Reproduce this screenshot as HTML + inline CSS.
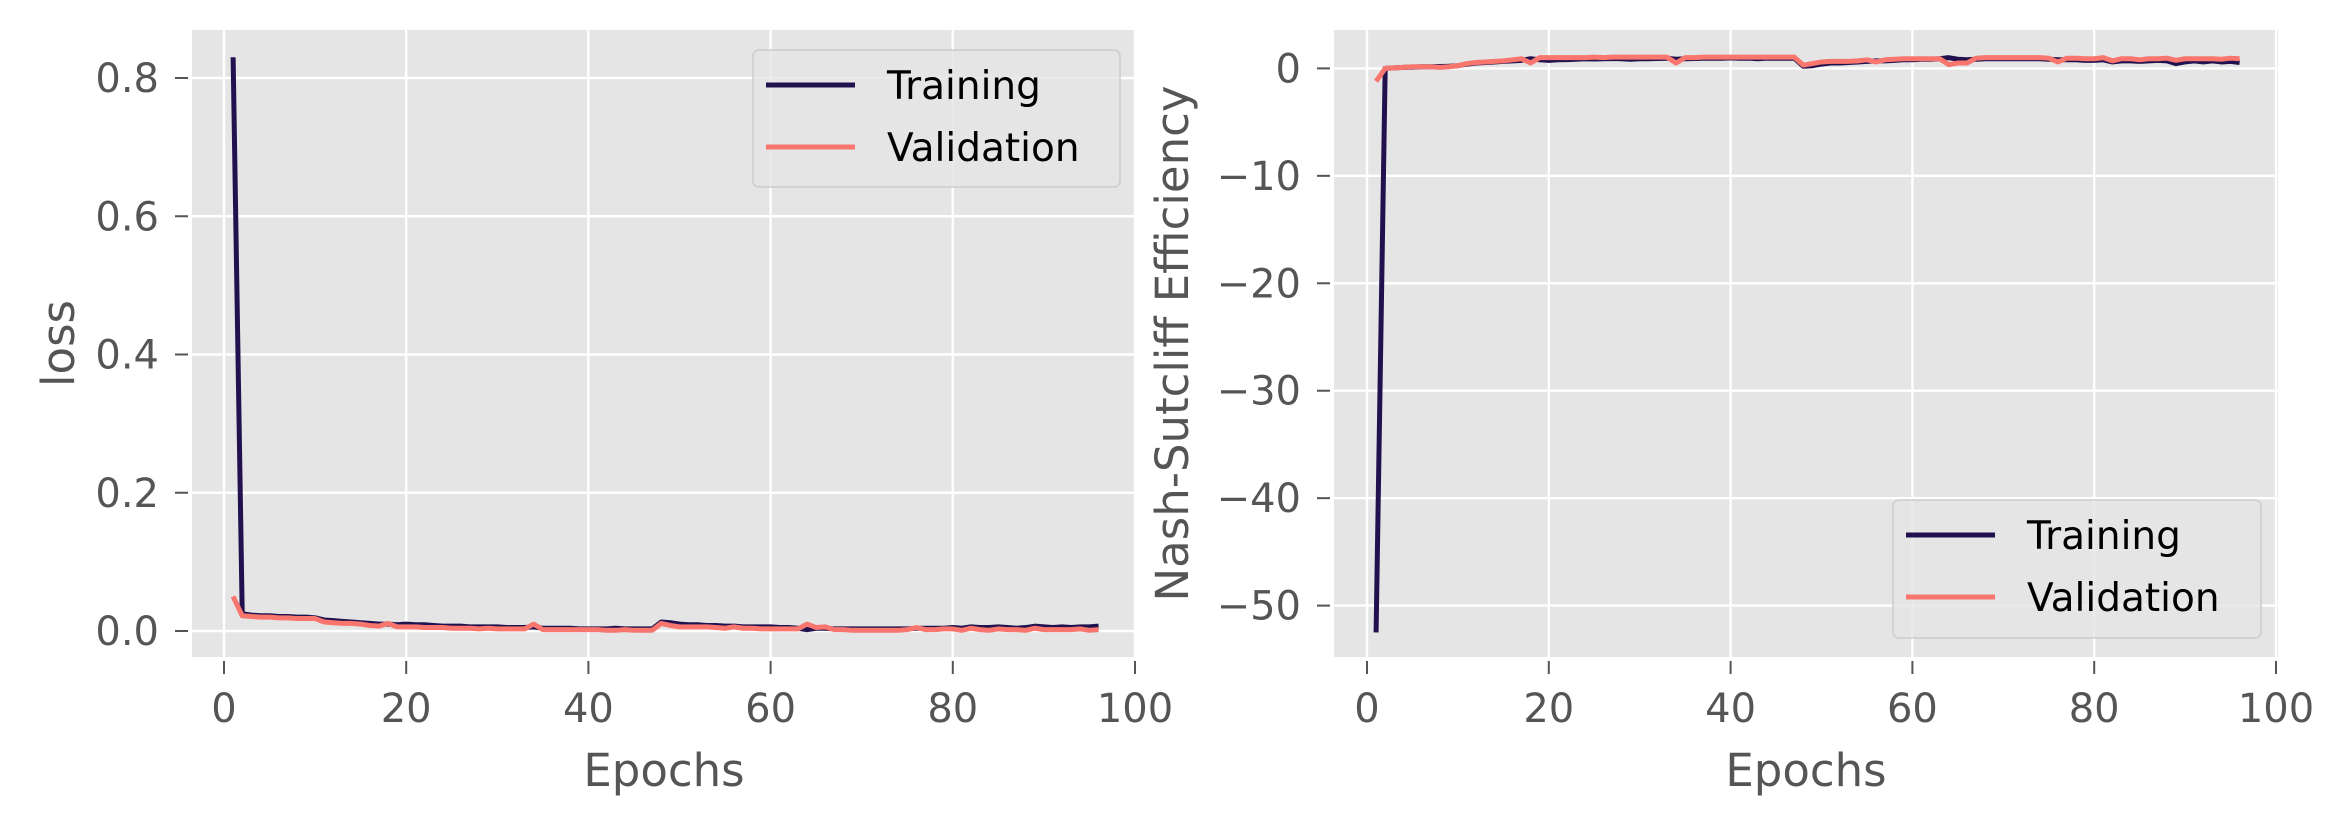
<!DOCTYPE html>
<html><head><meta charset="utf-8">
<style>
html,body{margin:0;padding:0;background:#fff;}
svg{display:block;font-family:"DejaVu Sans","Liberation Sans",sans-serif;}
</style></head>
<body>
<svg id="fig" width="2345" height="825" viewBox="0 0 2345 825"></svg>
<script>
const epochs = Array.from({length:96},(_,i)=>i+1);
const lossTrain = [0.83,0.025,0.023,0.022,0.022,0.021,0.021,0.020,0.020,0.019,
0.016,0.015,0.014,0.013,0.012,0.011,0.010,0.010,0.009,0.010,
0.009,0.009,0.008,0.007,0.007,0.007,0.006,0.006,0.006,0.006,
0.005,0.005,0.005,0.006,0.004,0.004,0.004,0.004,0.003,0.003,
0.003,0.003,0.004,0.003,0.003,0.003,0.003,0.013,0.012,0.010,
0.009,0.009,0.008,0.008,0.007,0.007,0.006,0.006,0.006,0.006,
0.005,0.005,0.004,0.002,0.004,0.004,0.003,0.003,0.003,0.003,
0.003,0.003,0.003,0.003,0.003,0.004,0.004,0.004,0.004,0.005,
0.004,0.006,0.005,0.005,0.006,0.005,0.004,0.005,0.007,0.006,
0.005,0.006,0.005,0.006,0.006,0.007];
const lossVal = [0.05,0.022,0.021,0.020,0.020,0.019,0.019,0.018,0.018,0.018,
0.013,0.012,0.011,0.011,0.010,0.008,0.007,0.011,0.006,0.006,
0.006,0.005,0.005,0.005,0.004,0.004,0.004,0.003,0.004,0.003,
0.003,0.003,0.003,0.010,0.002,0.002,0.002,0.002,0.002,0.002,
0.002,0.001,0.001,0.002,0.001,0.001,0.001,0.011,0.008,0.006,
0.006,0.006,0.006,0.005,0.004,0.006,0.004,0.004,0.003,0.003,
0.003,0.003,0.003,0.010,0.005,0.006,0.002,0.002,0.001,0.001,
0.001,0.001,0.001,0.001,0.002,0.005,0.002,0.002,0.003,0.003,
0.001,0.004,0.002,0.001,0.003,0.002,0.002,0.001,0.004,0.002,
0.002,0.002,0.002,0.003,0.001,0.002];
const nseTrain = [-52.5,0.0,0.05,0.1,0.12,0.15,0.15,0.18,0.2,0.25,
0.4,0.5,0.55,0.6,0.65,0.7,0.75,0.9,0.8,0.75,
0.8,0.82,0.85,0.9,0.88,0.9,0.92,0.9,0.85,0.9,
0.9,0.92,0.95,0.85,0.9,0.92,0.95,0.95,0.95,0.98,
0.95,0.95,0.9,0.95,0.95,0.95,0.95,0.2,0.25,0.4,
0.5,0.5,0.55,0.6,0.65,0.7,0.7,0.75,0.8,0.8,
0.85,0.85,0.9,1.0,0.85,0.8,0.85,0.9,0.9,0.9,
0.9,0.9,0.9,0.9,0.85,0.8,0.8,0.8,0.75,0.75,
0.8,0.6,0.7,0.7,0.65,0.7,0.75,0.7,0.45,0.6,
0.7,0.6,0.7,0.6,0.65,0.55];
const nseVal = [-1.2,0.0,0.05,0.1,0.15,0.15,0.15,0.1,0.15,0.25,
0.45,0.55,0.6,0.65,0.7,0.8,0.9,0.5,1.0,1.0,
1.0,1.0,1.0,1.0,1.05,1.0,1.05,1.05,1.05,1.05,
1.05,1.05,1.05,0.5,1.0,1.0,1.05,1.05,1.05,1.05,
1.05,1.05,1.05,1.05,1.05,1.05,1.05,0.3,0.45,0.6,
0.65,0.65,0.65,0.7,0.8,0.6,0.8,0.85,0.9,0.9,
0.9,0.9,0.9,0.35,0.5,0.5,0.95,1.0,1.0,1.0,
1.0,1.0,1.0,1.0,0.95,0.6,0.95,0.95,0.9,0.9,
1.0,0.7,0.9,0.9,0.8,0.9,0.9,0.95,0.75,0.9,
0.9,0.9,0.9,0.85,0.95,0.9];
const xTicks = [0,20,40,60,80,100];
const lossTicks = [0,0.2,0.4,0.6,0.8];
const nseTicks = [-50,-40,-30,-20,-10,0];

const NS="http://www.w3.org/2000/svg";
const svg=document.getElementById('fig');
function mk(tag,attrs,parent){const e=document.createElementNS(NS,tag);for(const k in attrs)e.setAttribute(k,attrs[k]);(parent||svg).appendChild(e);return e;}

function panel(o){
  const g=mk('g',{});
  
  
  const xs=v=>o.x0px+(v-0)*(o.x100px-o.x0px)/100;
  const ys=v=>o.ya_px+(v-o.ya)*(o.yb_px-o.ya_px)/(o.yb-o.ya);
  const bg=mk('rect',{x:o.L,y:o.T,width:o.R-o.L,height:o.B-o.T,fill:'#e5e5e5'},g);
  
  
  xTicks.forEach(t=>{
    const X=xs(t);
    const gl=mk('line',{x1:X,x2:X,y1:o.T,y2:o.B,stroke:'#fff','stroke-width':2.4},g);
    
    
    mk('line',{x1:X,x2:X,y1:o.B+4,y2:o.B+17,stroke:'#555','stroke-width':2},g);
    const tx=mk('text',{x:X,y:722,'text-anchor':'middle','font-size':40,fill:'#555'},g);
    tx.textContent=t;
    
    
  });
  o.yticks.forEach(t=>{
    const Y=ys(t);
    const gl=mk('line',{x1:o.L,x2:o.R,y1:Y,y2:Y,stroke:'#fff','stroke-width':2.4},g);
    
    
    mk('line',{x1:o.L-17,x2:o.L-4,y1:Y,y2:Y,stroke:'#555','stroke-width':2},g);
    const tx=mk('text',{x:o.L-33,y:Y+14,'text-anchor':'end','font-size':40,fill:'#555'},g);
    tx.textContent=o.fmt(t);
    
    
  });
  const series=[[o.train,'#21124f','training-line'],[o.val,'#f8766d','validation-line']];
  series.forEach(([arr,col,nm])=>{
    const d=arr.map((v,i)=>(i?'L':'M')+xs(epochs[i]).toFixed(2)+','+ys(v).toFixed(2)).join(' ');
    const p=mk('path',{d:d,fill:'none',stroke:col,'stroke-width':5,'stroke-linejoin':'round'},g);
    
    
  });
  const xl=mk('text',{x:(o.L+o.R)/2,y:786,'text-anchor':'middle','font-size':45,fill:'#555'},g);
  xl.textContent='Epochs';
  
  
  const yl=mk('text',{x:0,y:0,'text-anchor':'middle','font-size':45,fill:'#555',transform:`translate(${o.ylx},${(o.T+o.B)/2}) rotate(-90)`},g);
  yl.textContent=o.ylabel;
  
  
  const lg=mk('g',{},g);
  
  
  const [lx,ly,lw,lh]=o.leg;
  mk('rect',{x:lx,y:ly,width:lw,height:lh,rx:6,fill:'#e5e5e5','fill-opacity':0.8,stroke:'#cccccc','stroke-width':1.5},lg);
  [['Training','#21124f'],['Validation','#f8766d']].forEach(([t,c],i)=>{
    const cy=ly+35+i*62;
    const e=mk('g',{},lg);
    
    
    mk('line',{x1:lx+13,x2:lx+102,y1:cy,y2:cy,stroke:c,'stroke-width':5},e);
    const tx=mk('text',{x:lx+134,y:cy+14,'font-size':39,fill:'#000'},e);
    tx.textContent=t;
  });
}

panel({name:'loss-panel',L:192,R:1136,T:30,B:657,x0px:224,x100px:1135,
  ya:0,ya_px:631,yb:0.8,yb_px:78,yticks:lossTicks,fmt:v=>v.toFixed(1),
  train:lossTrain,val:lossVal,ylabel:'loss',ylx:74,leg:[753,50,367,137]});
panel({name:'nse-panel',L:1334,R:2278,T:30,B:657,x0px:1367,x100px:2276,
  ya:0,ya_px:68.4,yb:-50,yb_px:605.6,yticks:nseTicks,fmt:v=>v<0?'\u2212'+Math.abs(v):String(v),
  train:nseTrain,val:nseVal,ylabel:'Nash-Sutcliff Efficiency',ylx:1188,leg:[1893,500,368,138]});
</script>
</body></html>
